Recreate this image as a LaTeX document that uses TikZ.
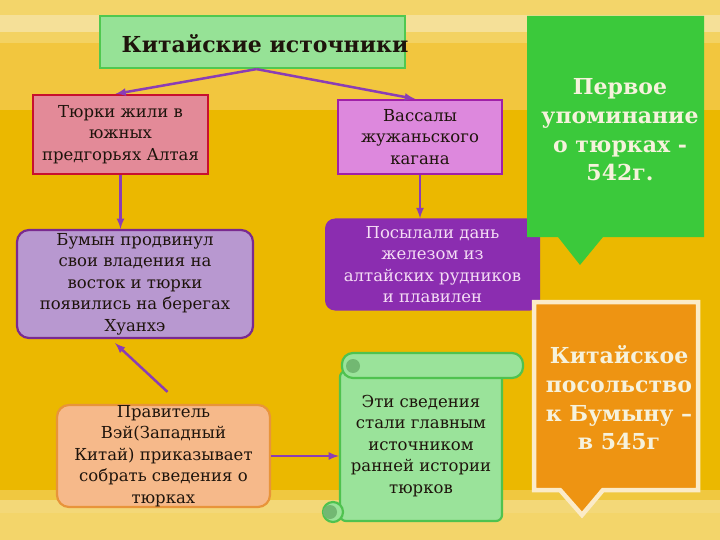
\documentclass[tikz,border=0pt]{standalone}
\usepackage{fontspec}
\setmainfont{DejaVu Serif}
\usetikzlibrary{arrows}

\definecolor{bgA}{HTML}{F3D56A}
\definecolor{bgB}{HTML}{F5E098}
\definecolor{bgC}{HTML}{F3D262}
\definecolor{bgD}{HTML}{F2C63E}
\definecolor{gold}{HTML}{EBB800}
\definecolor{bgE}{HTML}{F0C840}
\definecolor{bgF}{HTML}{F3D878}
\definecolor{ink}{HTML}{1E140C}
\definecolor{titlef}{HTML}{96E296}
\definecolor{titled}{HTML}{50C850}
\definecolor{pinkf}{HTML}{E38A98}
\definecolor{pinkd}{HTML}{C8102E}
\definecolor{orchidf}{HTML}{DD88DD}
\definecolor{orchidd}{HTML}{A020A8}
\definecolor{lavf}{HTML}{B898D0}
\definecolor{lavd}{HTML}{7A2A90}
\definecolor{plum}{HTML}{8B2DB0}
\definecolor{plumtext}{HTML}{F5DDF5}
\definecolor{leaf}{HTML}{3BC93B}
\definecolor{amber}{HTML}{EE9412}
\definecolor{cream}{HTML}{FBEBC8}
\definecolor{callt}{HTML}{F6F2DC}
\definecolor{peachf}{HTML}{F6B98A}
\definecolor{peachd}{HTML}{E8943A}
\definecolor{scrollf}{HTML}{9AE39A}
\definecolor{scrolld}{HTML}{4FC24F}
\definecolor{curl}{HTML}{72B872}
\definecolor{wire}{HTML}{8B3DB5}

\begin{document}
\begin{tikzpicture}[x=1pt,y=-1pt,
  plain/.style={font=\fontsize{16.5}{21.5}\selectfont, align=center, text=ink, inner sep=0pt},
  box/.style={plain, line width=2.2pt},
  callout/.style={font=\fontsize{22}{28.7}\selectfont\bfseries, align=center, text=callt, inner sep=0pt},
  conn/.style={-latex, line width=2.5pt, draw=wire, fill=wire}]

% background stripes
\useasboundingbox (0,0) rectangle (720,540);
\fill[bgA] (0,0) rectangle (720,15);
\fill[bgB] (0,15) rectangle (720,32);
\fill[bgC] (0,32) rectangle (720,43);
\fill[bgD] (0,43) rectangle (720,110);
\fill[gold] (0,110) rectangle (720,490);
\fill[bgE] (0,490) rectangle (720,500);
\fill[bgF] (0,500) rectangle (720,513);
\fill[bgA] (0,513) rectangle (720,540);

% boxes
\node[box, fill=titlef, draw=titled, minimum width=305pt, minimum height=52pt] (title) at (252.5,42) {};
\node[plain, font=\fontsize{22}{24}\selectfont\bfseries] (titletext) at (265,44) {Китайские источники};
\node[box, fill=pinkf, draw=pinkd, minimum width=175pt, minimum height=79pt]
  (pink) at (120.5,134.5) {Тюрки жили в\\ южных\\ предгорьях Алтая};
\node[box, fill=orchidf, draw=orchidd, minimum width=164pt, minimum height=74pt]
  (orchid) at (420,137) {Вассалы\\ жужаньского\\ кагана};
\node[box, fill=lavf, draw=lavd, rounded corners=12pt, minimum width=236pt, minimum height=108pt]
  (lavender) at (135,284) {Бумын продвинул\\ свои владения на\\ восток и тюрки\\ появились на берегах\\ Хуанхэ};
\node[plain, text=plumtext, fill=plum, rounded corners=10pt, minimum width=215pt, minimum height=92pt]
  (plum) at (432.5,264.5) {Посылали дань\\ железом из\\ алтайских рудников\\ и плавилен};
\node[box, fill=peachf, draw=peachd, rounded corners=12pt, minimum width=213pt, minimum height=102pt]
  (peach) at (163.5,456) {Правитель\\ Вэй(Западный\\ Китай) приказывает\\ собрать сведения о\\ тюрках};

% scroll
\node[box, fill=scrollf, draw=scrolld, rounded corners=6pt, minimum width=162pt, minimum height=150pt]
  (scroll) at (421,446) {Эти сведения\\ стали главным\\ источником\\ ранней истории\\ тюрков};
\draw[line width=2.2pt, fill=scrollf, draw=scrolld, rounded corners=11pt] (342,353) rectangle (523,378);
\fill[curl] (353,366) circle (7);
\draw[line width=2.2pt, fill=scrollf, draw=scrolld] (333,512) circle (10);
\fill[curl] (330,512) circle (7);

% callouts
\fill[leaf] (527,16) -- (704,16) -- (704,237) -- (603,237) -- (580,265) -- (558,237) -- (527,237) -- cycle;
\node[callout] (first) at (620,130) {Первое\\ упоминание\\ о тюрках -\\ 542г.};
\draw[line width=4.5pt, draw=cream, fill=amber] (534,302) -- (698,302) -- (698,490) -- (603,490)
  -- (582,515) -- (560,490) -- (534,490) -- cycle;
\node[callout] (embassy) at (619,398) {Китайское\\ посольство\\ к Бумыну –\\ в 545г};

% connectors
\draw[conn] ([xshift=4pt]title.south) -- ([xshift=-5pt]pink.north);
\draw[conn] ([xshift=4pt]title.south) -- ([xshift=-5pt]orchid.north);
\draw[conn] (pink.south) -- (pink.south |- lavender.north);
\draw[conn] (orchid.south) -- (orchid.south |- plum.north);
\draw[conn] ([xshift=4pt,yshift=12pt]peach.north) -- ([xshift=-20pt,yshift=-4pt]lavender.south);
\draw[conn] (peach.east) -- (peach.east -| scroll.west);
\end{tikzpicture}
\end{document}
